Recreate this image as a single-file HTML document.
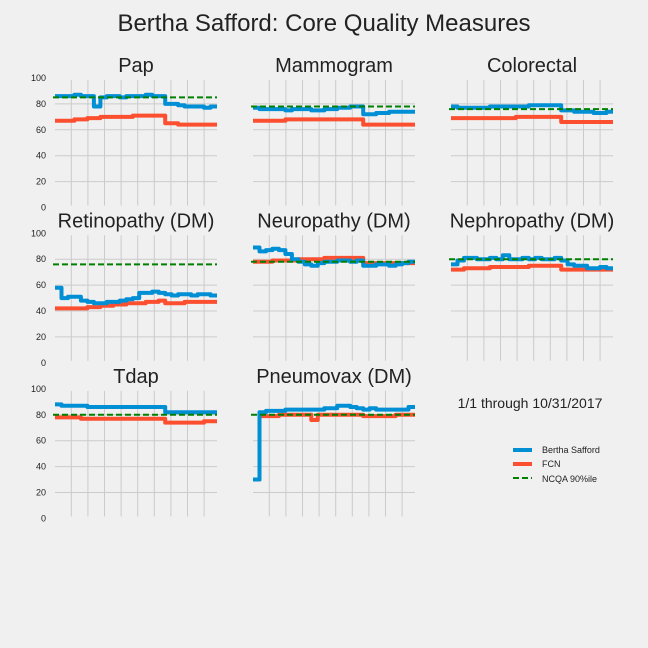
<!DOCTYPE html>
<html><head><meta charset="utf-8"><style>
body{margin:0;background:#f0f0f0;}
svg{display:block;font-family:"Liberation Sans",sans-serif;}
</style></head><body>
<svg id="fig" width="648" height="648" viewBox="0 0 648 648">
<rect width="648" height="648" fill="#f0f0f0"/>
<text x="324" y="31" font-size="24" fill="#222" text-anchor="middle">Bertha Safford: Core Quality Measures</text>
<text x="530" y="408" font-size="14" fill="#222" text-anchor="middle">1/1 through 10/31/2017</text>
<g>
<line x1="513" y1="450" x2="532" y2="450" stroke="#008fd5" stroke-width="4"/>
<text x="542" y="453" font-size="9" fill="#222">Bertha Safford</text>
<line x1="513" y1="464" x2="532" y2="464" stroke="#fc4f30" stroke-width="4"/>
<text x="542" y="467" font-size="9" fill="#222">FCN</text>
<line x1="513" y1="478" x2="532" y2="478" stroke="#008000" stroke-width="2" stroke-dasharray="6,3"/>
<text x="542" y="482" font-size="9" fill="#222">NCQA 90%ile</text>
</g>
</svg>
<script>
const titles=["Pap","Mammogram","Colorectal","Retinopathy (DM)","Neuropathy (DM)","Nephropathy (DM)","Tdap","Pneumovax (DM)"];
const bertha=[
[86,86,86,87,86,86,78,85,86,86,85,86,86,86,87,86,86,80,80,79,78,78,78,77,78],
[77,76,76,76,76,75,76,76,76,75,75,76,76,77,77,78,78,72,72,73,73,74,74,74,74],
[78,77,77,77,77,77,78,78,78,78,78,78,79,79,79,79,79,75,75,74,74,74,73,73,74],
[58,50,51,51,48,47,46,46,47,47,48,49,50,54,54,55,54,53,52,53,53,52,53,53,52],
[89,86,87,88,87,84,80,78,76,75,77,78,78,79,79,78,79,75,75,76,76,75,76,77,78],
[76,79,81,81,80,80,81,80,83,80,80,81,80,81,80,80,81,79,76,75,75,73,73,74,73],
[88,87,87,87,87,86,86,86,86,86,86,86,86,86,86,86,86,82,82,82,82,82,82,82,82],
[30,82,83,83,83,84,84,84,84,84,84,85,85,87,87,86,85,84,85,84,84,84,84,84,86]];
const fcn=[
[67,67,67,68,68,69,69,70,70,70,70,70,71,71,71,71,71,65,65,64,64,64,64,64,64],
[67,67,67,67,67,68,68,68,68,68,68,68,68,68,68,68,68,64,64,64,64,64,64,64,64],
[69,69,69,69,69,69,69,69,69,69,70,70,70,70,70,70,70,66,66,66,66,66,66,66,66],
[42,42,42,42,42,43,43,44,44,45,45,46,46,46,47,47,48,46,46,46,47,47,47,47,47],
[78,78,78,79,79,79,79,80,80,80,80,81,81,81,81,81,81,77,77,77,77,77,77,77,77],
[72,72,73,73,73,73,74,74,74,74,74,74,75,75,75,75,75,72,72,72,72,72,72,72,72],
[78,78,78,78,77,77,77,77,77,77,77,77,77,77,77,77,77,74,74,74,74,74,74,75,75],
[30,79,79,79,80,80,80,80,80,76,80,80,80,80,80,80,80,79,79,79,79,79,80,80,80]];
const ncqa=[85,78,76,76,78,80,80,80];
const yTicks=[0,20,40,60,80,100];
const NS="http://www.w3.org/2000/svg";
const fig=document.getElementById('fig');
const colX=[55,253,451], rowY0=[207.5,362.8,518.4], W=162, H=129.5;
function mk(tag,attrs,parent){const e=document.createElementNS(NS,tag);for(const k in attrs)e.setAttribute(k,attrs[k]);parent.appendChild(e);return e;}
titles.forEach((t,i)=>{
  const c=i%3,r=Math.floor(i/3);
  const x0=colX[c],y0=rowY0[r];
  const xs=v=>x0+v*W, ys=v=>y0-v/100*H;
  const g=mk('g',{},fig);
  
  
  for(let k=1;k<=9;k++){const gx=x0+16.3+(k-1)*16.6;
    const l=mk('line',{x1:gx,y1:y0-H+2,x2:gx,y2:y0-2,stroke:'#cbcbcb','stroke-width':1},g);
    }
  yTicks.forEach(v=>{
    if(v>0&&v<100){const l=mk('line',{x1:x0,y1:ys(v),x2:x0+W,y2:ys(v),stroke:'#cbcbcb','stroke-width':1},g);
      }
    if(c===0){const tx=mk('text',{x:x0-9,y:ys(v)+3,'font-size':9,fill:'#222','text-anchor':'end'},g);tx.textContent=v;
      }
  });
  const tt=mk('text',{x:x0+W/2,y:y0-H-6,'font-size':20,fill:'#222','text-anchor':'middle'},g);tt.textContent=t;
  
  const path=arr=>{const n=arr.length;let d='M'+xs(0).toFixed(1)+','+ys(arr[0]).toFixed(1);
    for(let j=1;j<n;j++){d+='H'+xs(j/n).toFixed(1)+'V'+ys(arr[j]).toFixed(1);}
    d+='H'+xs(1).toFixed(1);return d;};
  const pf=mk('path',{d:path(fcn[i]),fill:'none',stroke:'#fc4f30','stroke-width':4,'stroke-linejoin':'round'},g);
  
  const pb=mk('path',{d:path(bertha[i]),fill:'none',stroke:'#008fd5','stroke-width':4,'stroke-linejoin':'round'},g);
  
  const nl=mk('line',{x1:x0-2,y1:ys(ncqa[i]),x2:x0+W,y2:ys(ncqa[i]),stroke:'#008000','stroke-width':2,'stroke-dasharray':'6,3'},g);
  
});
</script>
</body></html>
